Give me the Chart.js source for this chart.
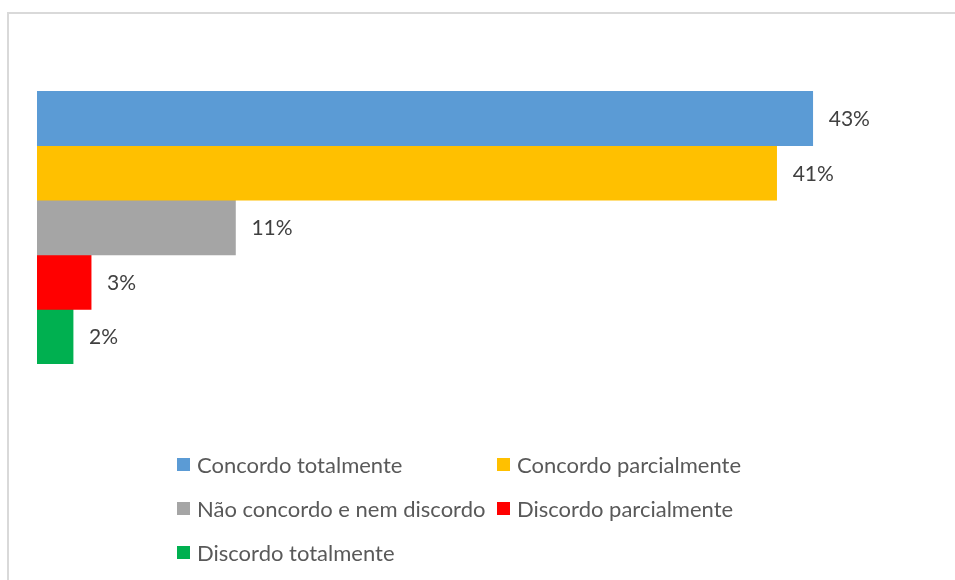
<!DOCTYPE html>
<html>
<head>
<meta charset="utf-8">
<script src="https://cdn.jsdelivr.net/npm/chart.js@4/dist/chart.umd.min.js"></script>
<style>
  html, body { margin: 0; padding: 0; background: #fff; }
  #wrap { position: relative; width: 955px; height: 580px; overflow: hidden; }
  #frame { position: absolute; left: 7px; top: 12px; width: 960px; height: 600px;
           border-top: 2px solid #d9d9d9; border-left: 2px solid #d9d9d9; box-sizing: border-box; }
  #chartBox { position: absolute; left: 0; top: 0; width: 955px; height: 400px; }
  #legend { position: absolute; left: 0; top: 0; width: 955px; height: 580px; pointer-events: none; }
  .item { position: absolute; display: flex; align-items: center; font-family: Lato, "Open Sans", sans-serif;
          font-size: 22px; color: #595959; white-space: nowrap; }
  .sw { width: 13px; height: 13px; margin-right: 7px; display: inline-block; }
</style>
</head>
<body>
<div id="wrap">
  <div id="frame"></div>
  <div id="chartBox"><canvas id="c"></canvas></div>
  <div id="legend"></div>
</div>
<script>
const categories = [''];
const seriesNames = ['Concordo totalmente', 'Concordo parcialmente', 'Não concordo e nem discordo', 'Discordo parcialmente', 'Discordo totalmente'];
const seriesValues = [43, 41, 11, 3, 2];
const seriesColors = ['#5b9bd5', '#ffc000', '#a5a5a5', '#ff0000', '#00b050'];

const labelPlugin = {
  id: 'valLabels',
  afterDatasetsDraw(chart) {
    const ctx = chart.ctx;
    ctx.save();
    ctx.font = '21px Lato, "Open Sans", sans-serif';
    ctx.fillStyle = '#404040';
    ctx.textBaseline = 'middle';
    ctx.textAlign = 'left';
    chart.data.datasets.forEach((ds, i) => {
      const meta = chart.getDatasetMeta(i);
      meta.data.forEach((el, j) => {
        ctx.fillText(ds.data[j] + '%', el.x + 16, el.y + 1);
      });
    });
    ctx.restore();
  }
};

const chart = new Chart(document.getElementById('c'), {
  type: 'bar',
  data: {
    labels: categories,
    datasets: seriesNames.map((n, i) => ({
      label: n,
      data: [seriesValues[i]],
      backgroundColor: seriesColors[i],
      borderWidth: 0,
      categoryPercentage: 1,
      barPercentage: 1
    }))
  },
  options: {
    indexAxis: 'y',
    responsive: true,
    maintainAspectRatio: false,
    animation: false,
    layout: { padding: { left: 37, right: 16, top: 91, bottom: 36 } },
    scales: {
      x: { display: false, min: 0, max: 50 },
      y: { display: false }
    },
    plugins: { legend: { display: false }, tooltip: { enabled: false } }
  },
  plugins: [labelPlugin]
});

// legend built from the same arrays
const legendPos = [[177, 464], [497, 464], [177, 508], [497, 508], [177, 552]];
const leg = document.getElementById('legend');
seriesNames.forEach((n, i) => {
  const d = document.createElement('div');
  d.className = 'item';
  d.style.left = legendPos[i][0] + 'px';
  d.style.top = (legendPos[i][1] - 13) + 'px';
  d.style.height = '26px';
  d.innerHTML = '<span class="sw" style="background:' + seriesColors[i] + '"></span>' + n;
  leg.appendChild(d);
});
</script>
</body>
</html>
